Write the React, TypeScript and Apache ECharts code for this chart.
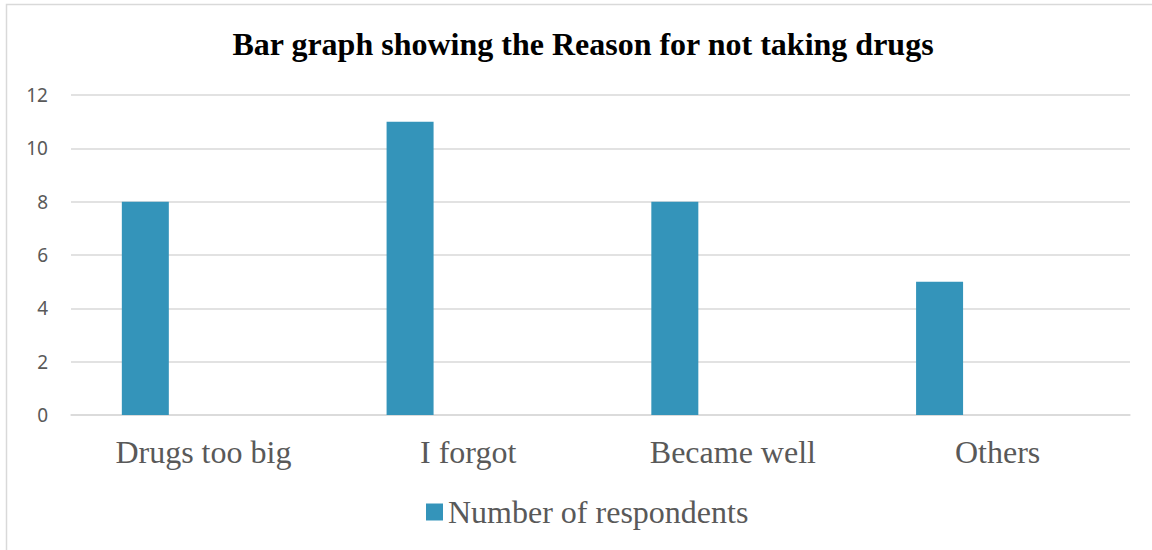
import React, { useEffect, useRef } from "react";
import * as echarts from "echarts";

const categories = ["Drugs too big", "I forgot", "Became well", "Others"];
const respondents = [8, 11, 8, 5];
const emptySeries = ["-", "-", "-", "-"];
const yTicks = { min: 0, max: 12, interval: 2 };

const BAR_COLOR = "#3494BA";
const TEXT_COLOR = "#595959";
const LINE_COLOR = "#D9D9D9";
const SERIF = "'Liberation Serif', 'Times New Roman', serif";

export default function App() {
  const ref = useRef<HTMLDivElement>(null);

  useEffect(() => {
    if (!ref.current) return;
    const chart = echarts.init(ref.current, null, { renderer: "svg" });
    chart.setOption({
      animation: false,
      backgroundColor: "#FFFFFF",
      graphic: [
        {
          type: "rect",
          shape: { x: 6.5, y: 4.5, width: 1200, height: 600 },
          style: { fill: "none", stroke: LINE_COLOR, lineWidth: 1.5 },
          silent: true,
          z: -1,
        },
      ],
      title: {
        text: "Bar graph showing the Reason for not taking drugs",
        left: 578,
        textAlign: "center",
        top: 23,
        textStyle: {
          fontFamily: SERIF,
          fontWeight: "bold",
          fontSize: 32,
          color: "#000000",
        },
      },
      legend: {
        data: ["Number of respondents"],
        left: 421,
        top: 491,
        itemWidth: 17,
        itemHeight: 17,
        icon: "rect",
        textStyle: {
          fontFamily: SERIF,
          fontSize: 32,
          color: TEXT_COLOR,
        },
      },
      grid: { left: 71, right: 22, top: 95, bottom: 135, containLabel: false },
      xAxis: {
        type: "category",
        data: categories,
        axisLine: { show: true, lineStyle: { color: LINE_COLOR, width: 1.5 } },
        axisTick: { show: false },
        axisLabel: {
          margin: 21,
          fontFamily: SERIF,
          fontSize: 32,
          color: TEXT_COLOR,
        },
      },
      yAxis: {
        type: "value",
        min: yTicks.min,
        max: yTicks.max,
        interval: yTicks.interval,
        axisLine: { show: false },
        axisTick: { show: false },
        splitLine: { lineStyle: { color: LINE_COLOR, width: 1.5 } },
        axisLabel: {
          margin: 23,
          fontFamily: "'Noto Sans', 'Open Sans', sans-serif",
          fontSize: 19,
          color: TEXT_COLOR,
          padding: [4, 0, 0, 0],
        },
      },
      series: [
        {
          name: "Number of respondents",
          type: "bar",
          data: respondents,
          barWidth: 47,
          barGap: "147%",
          itemStyle: { color: BAR_COLOR },
        },
        {
          name: "",
          type: "bar",
          data: emptySeries,
          barWidth: 47,
          itemStyle: { color: "transparent" },
        },
      ],
    });
    return () => chart.dispose();
  }, []);

  return (
    <div
      ref={ref}
      style={{ position: "absolute", left: 0, top: 0, width: 1152, height: 550 }}
    />
  );
}
